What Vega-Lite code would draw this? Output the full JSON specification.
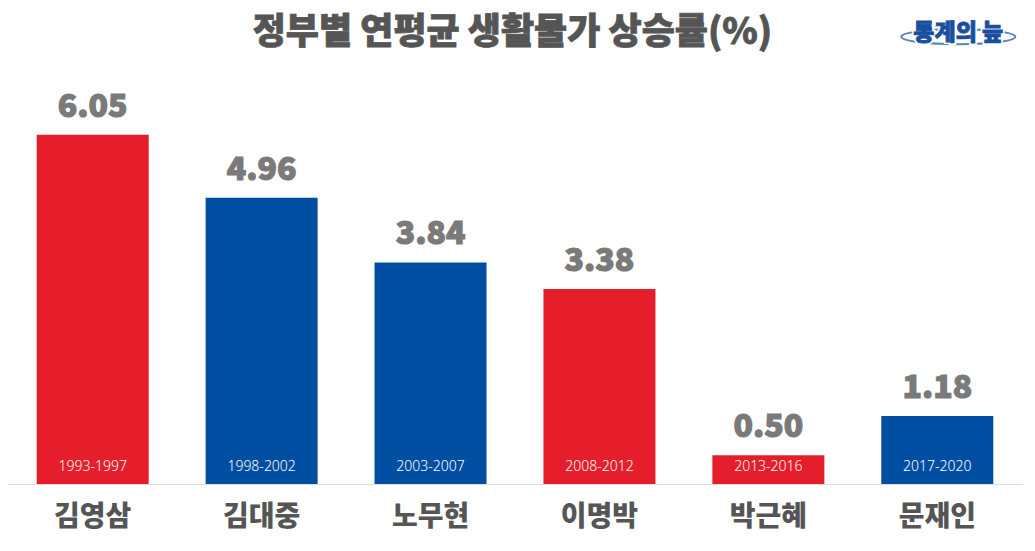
{
  "$schema": "https://vega.github.io/schema/vega-lite/v6.json",
  "autosize": "none",
  "width": 1014,
  "height": 404,
  "padding": {"left": 8, "top": 80, "right": 13, "bottom": 67},
  "background": "white",
  "config": {"view": {"stroke": null}},
  "data": {
    "values": [
      {"name": "김영삼", "period": "1993-1997", "value": 6.05, "label": "6.05", "party": "A"},
      {"name": "김대중", "period": "1998-2002", "value": 4.96, "label": "4.96", "party": "B"},
      {"name": "노무현", "period": "2003-2007", "value": 3.84, "label": "3.84", "party": "B"},
      {"name": "이명박", "period": "2008-2012", "value": 3.38, "label": "3.38", "party": "A"},
      {"name": "박근혜", "period": "2013-2016", "value": 0.50, "label": "0.50", "party": "A"},
      {"name": "문재인", "period": "2017-2020", "value": 1.18, "label": "1.18", "party": "B"}
    ]
  },
  "encoding": {
    "x": {
      "field": "name",
      "type": "nominal",
      "sort": null,
      "scale": {"paddingInner": 0.337, "paddingOuter": 0.17},
      "axis": {
        "title": null,
        "labelAngle": 0,
        "labelFont": "Noto Sans CJK KR",
        "labelFontSize": 28,
        "labelFontWeight": 900,
        "labelColor": "#555555",
        "labelPadding": 19,
        "ticks": false,
        "domainColor": "#dddddd",
        "domainWidth": 1
      }
    },
    "y": {
      "field": "value",
      "type": "quantitative",
      "scale": {"domain": [0, 7], "nice": false},
      "axis": null
    }
  },
  "layer": [
    {
      "mark": {"type": "bar"},
      "encoding": {
        "color": {
          "field": "party",
          "type": "nominal",
          "scale": {"domain": ["A", "B"], "range": ["#E61E2B", "#004EA1"]},
          "legend": null
        }
      }
    },
    {
      "mark": {
        "type": "text",
        "font": "Noto Sans CJK KR",
        "fontSize": 32,
        "fontWeight": 900,
        "color": "#7a7a7a",
        "stroke": "#7a7a7a",
        "strokeWidth": 1.2,
        "baseline": "alphabetic",
        "dy": -18
      },
      "encoding": {"text": {"field": "label"}}
    },
    {
      "mark": {
        "type": "text",
        "font": "Noto Sans",
        "fontSize": 14,
        "fontWeight": 300,
        "color": "white",
        "baseline": "alphabetic",
        "dy": -13
      },
      "encoding": {"y": {"datum": 0}, "text": {"field": "period"}}
    },
    {
      "data": {"values": [{"t": "정부별 연평균 생활물가 상승률(%)", "lx": "이명박", "ly": 7.815}]},
      "mark": {
        "type": "text",
        "font": "Noto Sans CJK KR",
        "fontSize": 36,
        "fontWeight": 900,
        "color": "#555555",
        "stroke": "#555555",
        "strokeWidth": 0.8,
        "baseline": "middle",
        "align": "center",
        "dx": -87
      },
      "encoding": {"x": {"field": "lx", "type": "nominal"}, "y": {"field": "ly", "type": "quantitative"}, "text": {"field": "t"}}
    },
    {
      "data": {"values": [{"logo": "통계의 늪", "lx": "문재인", "ly": 7.75}]},
      "mark": {
        "type": "point",
        "shape": "M-1,0 A1,0.13 0 1,0 1,0 A1,0.13 0 1,0 -1,0 Z",
        "size": 13000,
        "filled": false,
        "stroke": "#1a4f9f",
        "strokeWidth": 2,
        "xOffset": 21
      },
      "encoding": {"x": {"field": "lx", "type": "nominal"}, "y": {"field": "ly", "type": "quantitative"}}
    },
    {
      "data": {"values": [{"logo": "통계의 늪", "lx": "문재인", "ly": 7.82}]},
      "mark": {
        "type": "text",
        "font": "Noto Sans CJK KR",
        "fontSize": 23,
        "fontWeight": 900,
        "color": "white",
        "stroke": "white",
        "strokeWidth": 4,
        "baseline": "middle",
        "dx": 21
      },
      "encoding": {"x": {"field": "lx", "type": "nominal"}, "y": {"field": "ly", "type": "quantitative"}, "text": {"field": "logo"}}
    },
    {
      "data": {"values": [{"logo": "통계의 늪", "lx": "문재인", "ly": 7.82}]},
      "mark": {
        "type": "text",
        "font": "Noto Sans CJK KR",
        "fontSize": 23,
        "fontWeight": 900,
        "color": "#1a4f9f",
        "stroke": "#1a4f9f",
        "strokeWidth": 0.8,
        "baseline": "middle",
        "dx": 21
      },
      "encoding": {"x": {"field": "lx", "type": "nominal"}, "y": {"field": "ly", "type": "quantitative"}, "text": {"field": "logo"}}
    }
  ]
}
